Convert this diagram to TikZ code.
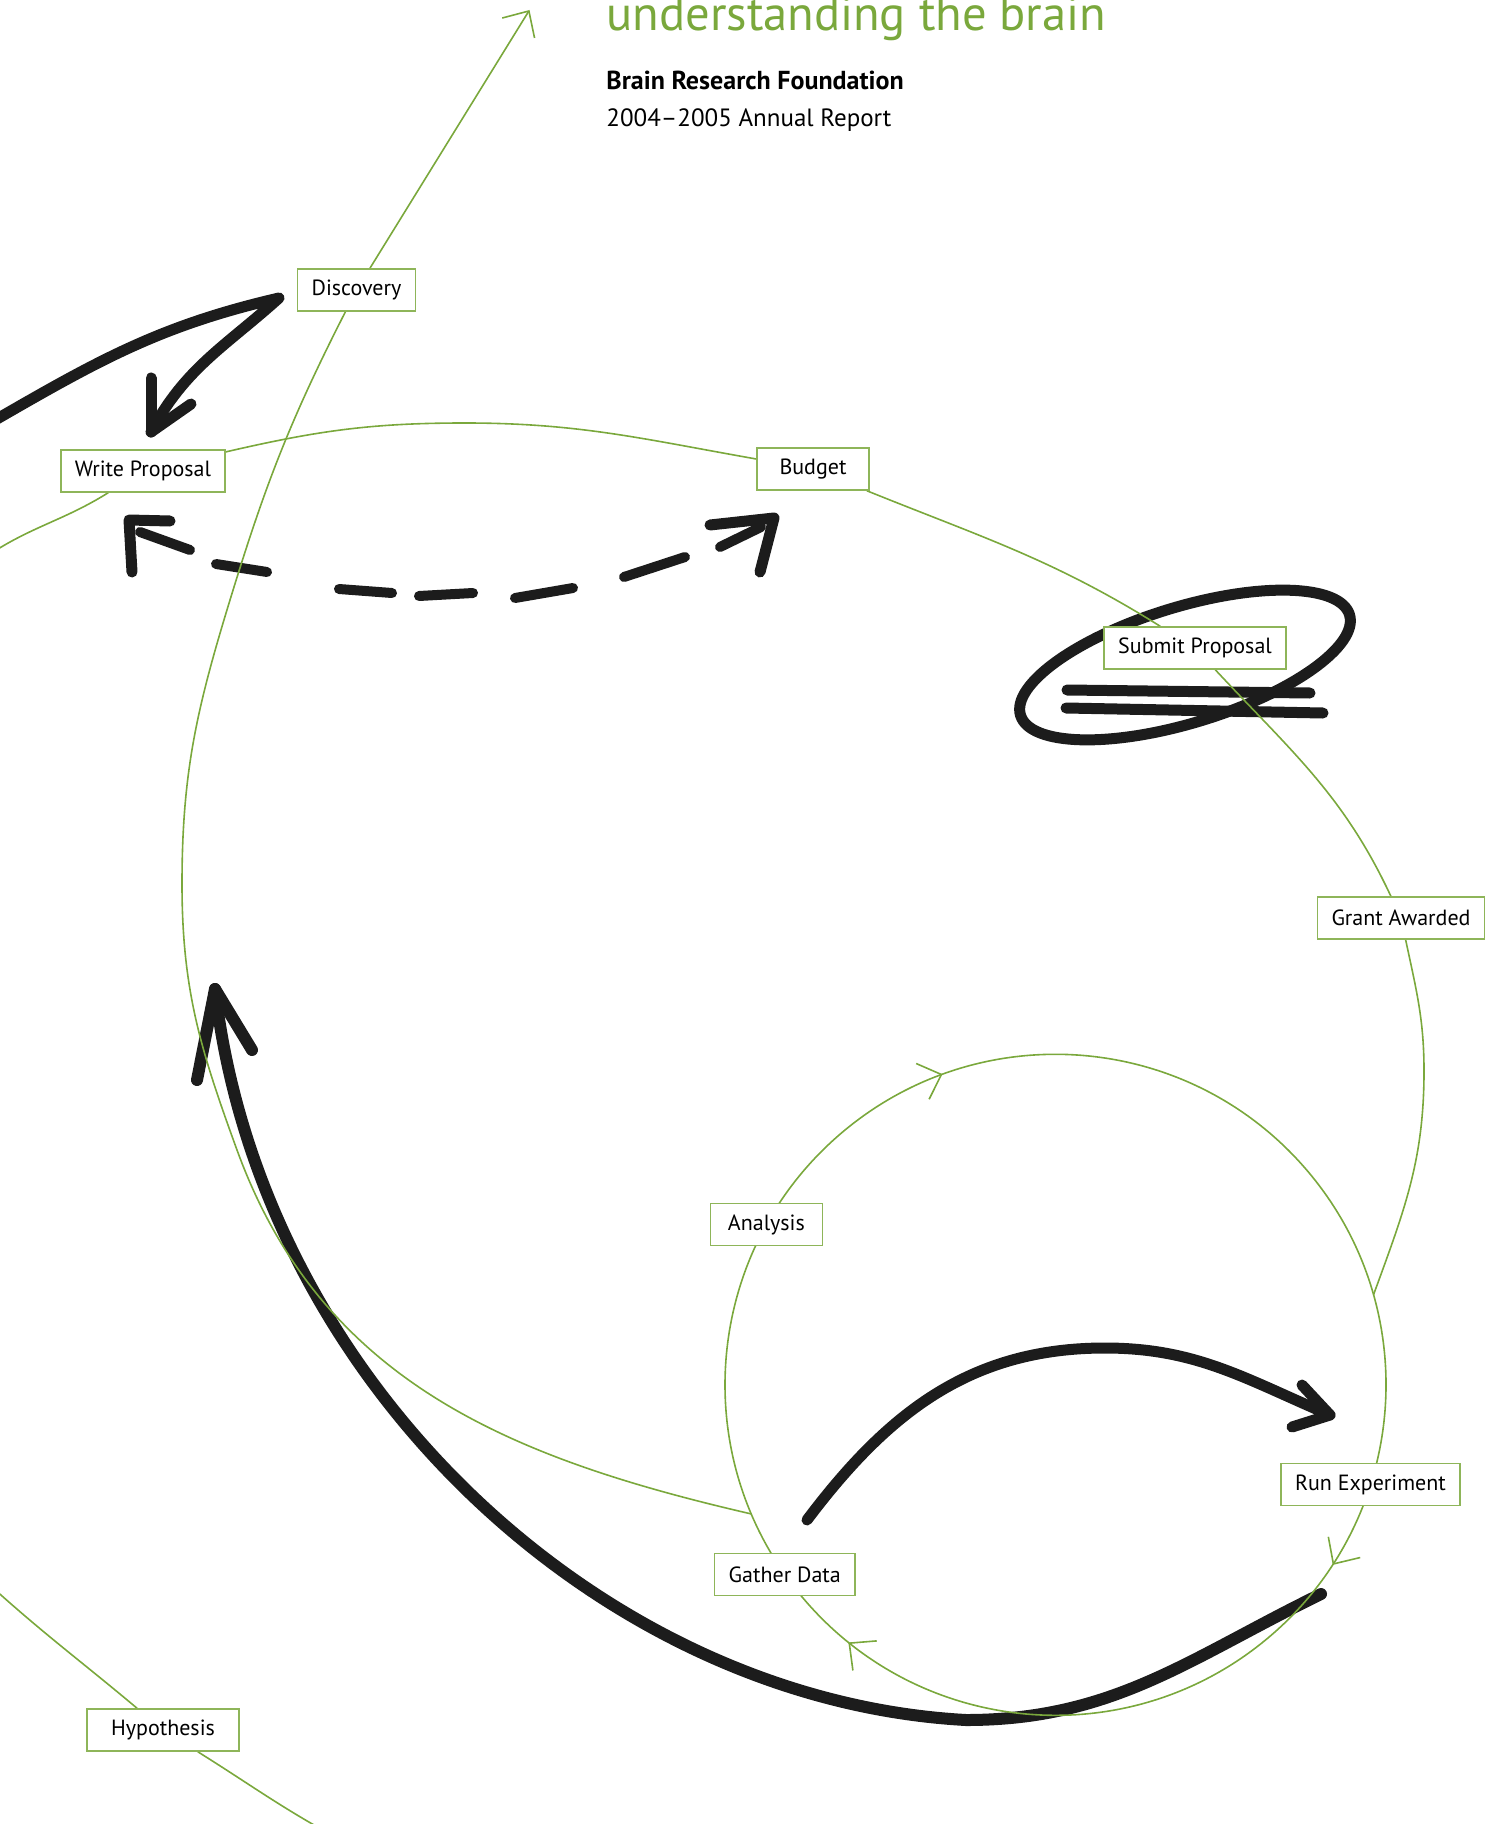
\documentclass[tikz,border=0pt]{standalone}
\usepackage{fontspec}
\setmainfont{PT Sans}
\usetikzlibrary{positioning,arrows.meta,calc,backgrounds,decorations.markings}
\definecolor{leaf}{HTML}{7AA83C}
\definecolor{ink}{HTML}{1C1C1C}

\begin{document}
\begin{tikzpicture}[
    x=0.5pt, y=0.5pt,
    stage/.style={draw=leaf!85, line width=0.75pt, fill=white, minimum width=56pt, minimum height=21pt, inner xsep=7pt, font=\fontsize{11}{13}\selectfont},
    cyc/.style={draw=leaf, line width=0.8pt},
    pen/.style={draw=ink, line width=5.5pt, line cap=round, line join=round},
    vee/.tip={Straight Barb[length=10pt,width=19pt]},
    ticks/.style={postaction=decorate, decoration={markings,
      mark=at position 0.0556 with {\arrow{vee}},
      mark=at position 0.4528 with {\arrow{vee}},
      mark=at position 0.7189 with {\arrow{vee}}}}
  ]
  \useasboundingbox (0,0) rectangle (1493,-1824);

  % heading
  \node[anchor=base west, inner sep=0, text=leaf, font=\fontsize{24.3}{29}\selectfont] (title) at (606,-31) {understanding the brain};
  \node[anchor=base west, inner sep=0, font=\bfseries\fontsize{13}{15}\selectfont] (brf) at (606,-90) {Brain Research Foundation};
  \node[anchor=base west, inner sep=0, font=\fontsize{12.5}{15}\selectfont] (rep) at (606,-127) {2004--2005 Annual Report};

  % stages
  \node[stage] (disc) at (356.5,-290) {Discovery};
  \node[stage] (wp) at (143,-471) {Write Proposal};
  \node[stage] (bud) at (813,-469) {Budget};
  \node[stage] (sub) at (1195,-648) {Submit Proposal};
  \node[stage] (grant) at (1401,-918) {Grant Awarded};
  \coordinate (sc) at (1055.5,-1384.8);
  \node[stage] (ana) at ($(sc)+(151:330.5)$) {Analysis};
  \node[stage] (gath) at ($(sc)+(215:330.5)$) {Gather Data};
  \node[stage] (run) at ($(sc)+(-17.6:330.5)$) {Run Experiment};
  \node[stage, minimum width=76pt] (hyp) at (163,-1730) {Hypothesis};

  % free ends and bends
  \coordinate (hypin) at (-8,-1587);
  \coordinate (hypout) at (330,-1834);
  \coordinate (wpin) at (-10,-554);
  \coordinate (btop) at (465,-423);
  \coordinate (bright) at (1424,-1071);
  \coordinate (join1) at ($(sc)+(15.8:330.5)$);
  \coordinate (join2) at ($(sc)+(203:330.5)$);
  \coordinate (c1) at (237,-1150);
  \coordinate (c2) at (182,-884);
  \coordinate (c3) at (230,-600);
  \coordinate (dtip) at (529.5,-10);

  \begin{scope}[on background layer]
    % marker scribbles
    \coordinate (swA) at (-10,-423);
    \coordinate (swB) at (279,-298);
    \coordinate (swC) at (151,-432);
    \draw[pen] (swA) to[out=30,in=193] (swB) to[out=222,in=62] (swC);
    \draw[pen] (swC) -- (151,-378);
    \draw[pen] (swC) -- (191,-404);

    \coordinate (tipL) at (129,-520);
    \coordinate (tipR) at (774,-518);
    \foreach \xa/\ya/\xb/\yb in {140/532/190/550, 216/564/267/572, 339/589/392/593,
        419/596/473/593, 515/598/573/588, 624/577/685/557, 720/547/761/527}
      \draw[pen, line width=5pt] (\xa,-\ya) -- (\xb,-\yb);
    \draw[pen] (170,-521) -- (tipL) -- (132,-572);
    \draw[pen] (710,-525) -- (tipR) -- (760,-572);

    \draw[pen, rotate around={17:(1185,-665)}] (1185,-665) ellipse[x radius=172, y radius=58];
    \draw[pen] (1067,-690) -- (1310,-693);
    \draw[pen] (1066,-708) -- (1323,-713);

    \coordinate (bk1) at (1321,-1594);
    \coordinate (bk2) at (966,-1720);
    \coordinate (bk5) at (215,-989);
    \draw[pen, line width=6pt] (bk1) to[out=206,in=0] (bk2)
      .. controls (600,-1700) and (260,-1380) .. (bk5);
    \draw[pen, line width=6pt] (197,-1080) -- (bk5) -- (252,-1050);

    \coordinate (bs) at (807,-1520);
    \coordinate (btop2) at (1105,-1348);
    \coordinate (btip) at (1330,-1415);
    \draw[pen] (bs) to[out=53,in=180] (btop2) to[out=0,in=157] (btip);
    \draw[pen] (1302,-1385) -- (btip) -- (1292,-1427);

    % research cycle
    \draw[cyc] (hypin) to[out=-42,in=140] (hyp);
    \draw[cyc] (hyp) to[out=-32,in=151] (hypout);
    \draw[cyc] (wpin) to[out=33,in=212] (wp);
    \draw[cyc] (wp) to[out=13,in=180] (btop) to[out=0,in=170] (bud);
    \draw[cyc] (bud) to[out=-22,in=148] (sub);
    \draw[cyc] (sub) to[out=-47,in=115] (grant);
    \draw[cyc] (grant) to[out=-78,in=90] (bright) to[out=-90,in=70] (join1);
    \draw[cyc, ticks] (sc) ++(130:330.5) arc[start angle=130, end angle=-230, radius=330.5];
    \draw[cyc] (join2) to[out=167,in=-70] (c1) to[out=110,in=-90] (c2)
      to[out=90,in=-107] (c3) to[out=73,in=243] (disc);
    \draw[cyc, -vee] (disc) -- (dtip);
  \end{scope}
\end{tikzpicture}
\end{document}
